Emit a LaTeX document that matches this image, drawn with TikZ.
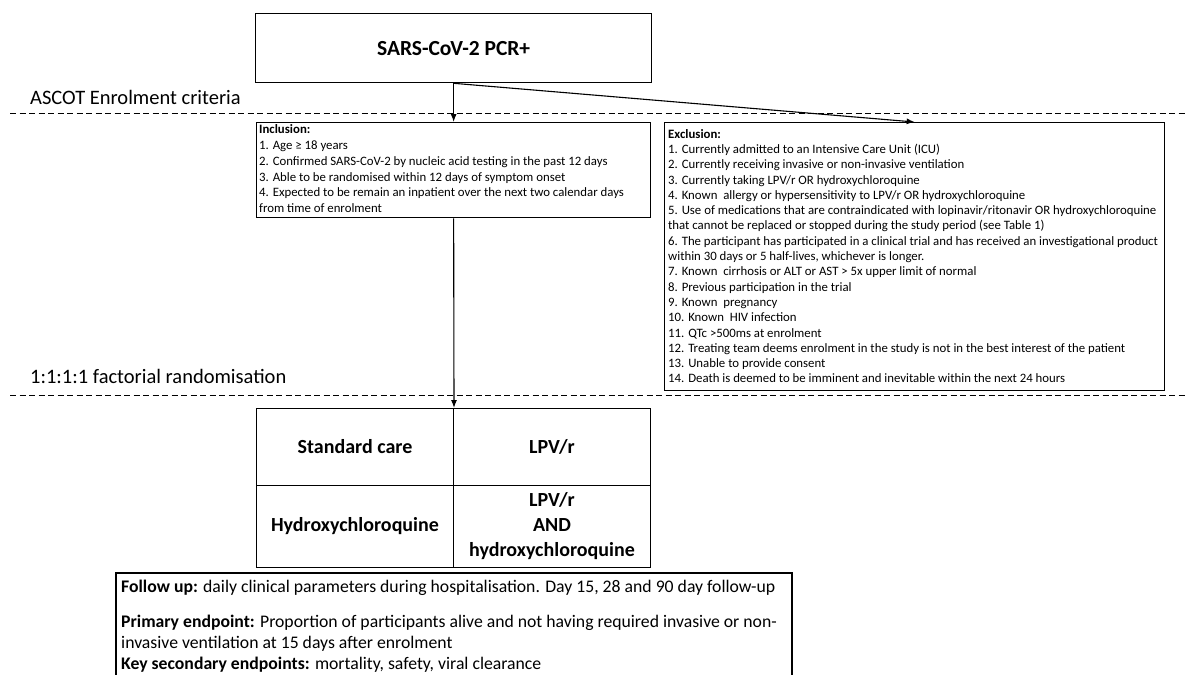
\documentclass[tikz,border=0pt]{standalone}
\usepackage{fontspec}
\setmainfont{Carlito}
\usetikzlibrary{arrows.meta}
\tikzset{
	box/.style={draw, line width=1.3pt, anchor=north west, inner sep=0pt},
	crit/.style={anchor=north west, inner sep=0pt, align=left},
	cell/.style={draw, line width=1pt, anchor=north west, minimum width=197pt, inner sep=2pt, align=center, font=\fontsize{20}{25}\selectfont\bfseries},
	sep/.style={dash pattern=on 6pt off 3.5pt, line width=0.8pt},
	arr/.style={-{Latex[length=8pt,width=6pt]}, line width=1.1pt}
}
\begin{document}
\begin{tikzpicture}[x=1pt,y=1pt,yscale=-1,xscale=1]
			\useasboundingbox (0,0) rectangle (1187,675);
			
			%Shape: Rectangle [id:pcr]
			\node [box, minimum width=396pt, minimum height=69pt, font=\fontsize{21.5}{26}\selectfont\bfseries] (pcr) at (255,13) {SARS-CoV-2 PCR+};
			
			%Straight Lines [id:sep1]
			\draw [sep] (10,113) -- (1187,113) ;
			% Text Node
			\node [anchor=base west, inner sep=0pt, font=\fontsize{20.5}{24}\selectfont] (enrol) at (30,104) {ASCOT Enrolment criteria};
			
			%Shape: Rectangle [id:incl]
			\node [box, minimum width=394pt, minimum height=95pt] (incl) at (256,122) {};
			% Text Node
			\node [crit, font=\fontsize{12.8}{15.8}\selectfont] (incltxt) at (259,124.5) {\textbf{Inclusion:}\\
				1. Age ≥ 18 years\\
				2. Confirmed SARS-CoV-2 by nucleic acid testing in the past 12 days\\
				3. Able to be randomised within 12 days of symptom onset\\
				4. Expected to be remain an inpatient over the next two calendar days\\
				from time of enrolment};
			
			%Shape: Rectangle [id:excl]
			\node [box, minimum width=500pt, minimum height=268pt] (excl) at (664,122) {};
			% Text Node
			\node [crit, font=\fontsize{12.8}{15.3}\selectfont] (excltxt) at (668,129) {\textbf{Exclusion:}\\
				1. Currently admitted to an Intensive Care Unit (ICU)\\
				2. Currently receiving invasive or non-invasive ventilation\\
				3. Currently taking LPV/r OR hydroxychloroquine\\
				4. Known\ \ allergy or hypersensitivity to LPV/r OR hydroxychloroquine\\
				5. Use of medications that are contraindicated with lopinavir/ritonavir OR hydroxychloroquine\\
				that cannot be replaced or stopped during the study period (see Table 1)\\
				6. The participant has participated in a clinical trial and has received an investigational product\\
				within 30 days or 5 half-lives, whichever is longer.\\
				7. Known\ \ cirrhosis or ALT or AST > 5x upper limit of normal\\
				8. Previous participation in the trial\\
				9. Known\ \ pregnancy\\
				10. Known\ \ HIV infection\\
				11. QTc >500ms at enrolment\\
				12. Treating team deems enrolment in the study is not in the best interest of the patient\\
				13. Unable to provide consent\\
				14. Death is deemed to be imminent and inevitable within the next 24 hours};
			
			%Straight Lines [id:sep2]
			\draw [sep] (10,395) -- (1187,395) ;
			% Text Node
			\node [anchor=base west, inner sep=0pt, font=\fontsize{20.5}{24}\selectfont] (rand) at (30,383) {1:1:1:1 factorial randomisation};
			
			%Shape: Table [id:arms]
			\node [cell, minimum height=77pt] (sc) at (256,408) {Standard care};
			\node [cell, minimum height=77pt] (lpv) at (453,408) {LPV/r};
			\node [cell, minimum height=82pt] (hcq) at (256,485) {Hydroxychloroquine};
			\node [cell, minimum height=82pt] (combo) at (453,485) {LPV/r\\AND\\hydroxychloroquine};
			
			%Shape: Open Rectangle [id:follow]
			\draw [line width=1.1pt] (116,676) -- (116,573) -- (792,573) -- (792,676) ;
			% Text Node
			\node [crit, font=\fontsize{17.7}{21}\selectfont] (followtxt) at (121,580) {\textbf{Follow up:} daily clinical parameters during hospitalisation. Day 15, 28 and 90 day follow-up\\[13.5pt]
				\textbf{Primary endpoint:} Proportion of participants alive and not having required invasive or non-\\
				invasive ventilation at 15 days after enrolment\\
				\textbf{Key secondary endpoints:} mortality, safety, viral clearance};
			
			%Straight Lines [id:flow]
			\draw [arr] (pcr.south) -- (incl.north) ;
			\draw [arr] (pcr.south) -- (excl.north) ;
			\draw [arr] (incl.south) -- (sc.north east) ;
\end{tikzpicture}
\end{document}
